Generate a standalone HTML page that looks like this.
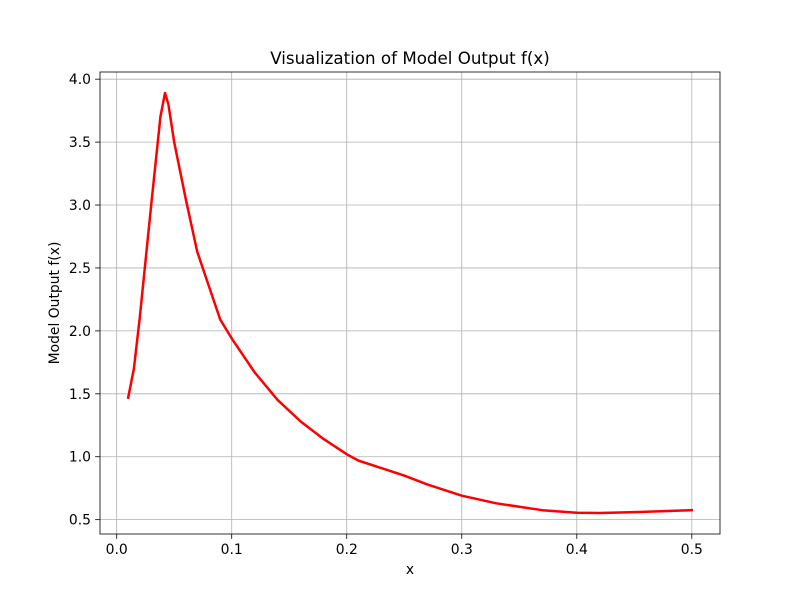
<!DOCTYPE html>
<html><head><meta charset="utf-8"><style>
body{margin:0;background:#fff;font-family:"DejaVu Sans","Liberation Sans",sans-serif}
</style></head><body>
<svg id="chart" width="800" height="600" xmlns="http://www.w3.org/2000/svg" font-family="DejaVu Sans, Liberation Sans, sans-serif"></svg>
<script>
const xs=[0.01,0.015,0.02,0.03,0.038,0.042,0.045,0.05,0.06,0.07,0.08,0.09,0.1,0.12,0.14,0.16,0.18,0.2,0.21,0.25,0.27,0.3,0.33,0.37,0.4,0.42,0.45,0.5];
const ys=[1.47,1.7,2.1,3.0,3.7,3.89,3.8,3.5,3.05,2.63,2.36,2.09,1.94,1.67,1.45,1.28,1.14,1.02,0.97,0.85,0.78,0.69,0.63,0.575,0.555,0.553,0.56,0.575];
const xTicks=[0,0.1,0.2,0.3,0.4,0.5];
const xTickLabels=["0.0","0.1","0.2","0.3","0.4","0.5"];
const yTicks=[0.5,1.0,1.5,2.0,2.5,3.0,3.5,4.0];
const yTickLabels=["0.5","1.0","1.5","2.0","2.5","3.0","3.5","4.0"];
const L=100,R=720,T=72,B=534;
const xmin=-0.0145,xmax=0.5245,ymin=0.386,ymax=4.057;
const sx=v=>L+(v-xmin)/(xmax-xmin)*(R-L);
const sy=v=>B-(v-ymin)/(ymax-ymin)*(B-T);
const svg=document.getElementById('chart');
const NS="http://www.w3.org/2000/svg";
function mk(t,a,p){const e=document.createElementNS(NS,t);for(const k in a)e.setAttribute(k,a[k]);(p||svg).appendChild(e);return e;}
xTicks.forEach((v,i)=>{
 const g=mk('line',{x1:sx(v),x2:sx(v),y1:T,y2:B,stroke:'#b0b0b0','stroke-width':0.8});
 
 
 mk('line',{x1:sx(v),x2:sx(v),y1:B,y2:B+4.9,stroke:'#000','stroke-width':0.8});
 const t=mk('text',{x:sx(v),y:B+20,'text-anchor':'middle','font-size':13.9,fill:'#000'});
 t.textContent=xTickLabels[i];
 
 
});
yTicks.forEach((v,i)=>{
 const g=mk('line',{x1:L,x2:R,y1:sy(v),y2:sy(v),stroke:'#b0b0b0','stroke-width':0.8});
 
 
 mk('line',{x1:L-4.9,x2:L,y1:sy(v),y2:sy(v),stroke:'#000','stroke-width':0.8});
 const t=mk('text',{x:L-9,y:sy(v)+5,'text-anchor':'end','font-size':13.9,fill:'#000'});
 t.textContent=yTickLabels[i];
 
 
});
const d=xs.map((v,i)=>(i?'L':'M')+sx(v).toFixed(1)+' '+sy(ys[i]).toFixed(1)).join(' ');
const p=mk('path',{d:d,fill:'none',stroke:'#ff0000','stroke-width':2.5,'stroke-linejoin':'round','stroke-linecap':'square'});


const f=mk('rect',{x:L,y:T,width:R-L,height:B-T,fill:'none',stroke:'#000','stroke-width':0.8});


const ti=mk('text',{x:(L+R)/2,y:T-8,'text-anchor':'middle','font-size':16.7,fill:'#000'});
ti.textContent='Visualization of Model Output f(x)';


const xl=mk('text',{x:(L+R)/2,y:574,'text-anchor':'middle','font-size':13.9,fill:'#000'});
xl.textContent='x';


const yl=mk('text',{x:59,y:(T+B)/2,'text-anchor':'middle','font-size':13.9,fill:'#000',transform:`rotate(-90 59 ${(T+B)/2})`});
yl.textContent='Model Output f(x)';


</script>
</body></html>
